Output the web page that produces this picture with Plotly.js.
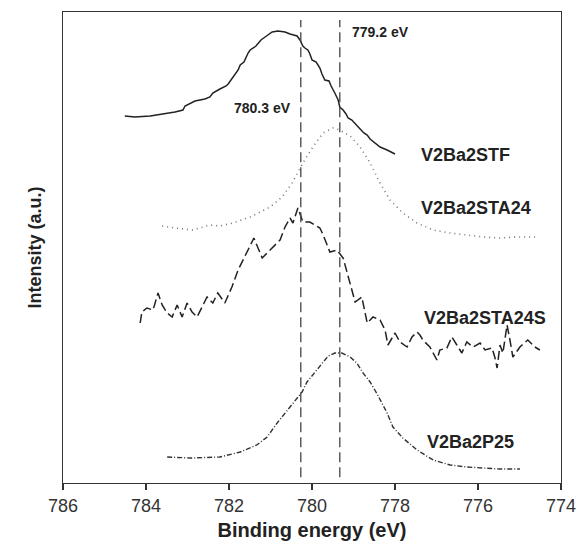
<!DOCTYPE html>
<html>
<head>
<meta charset="utf-8">
<script src="https://cdn.plot.ly/plotly-3.0.1.min.js"></script>
<style>html,body{margin:0;padding:0;background:#fff;}#chart{width:576px;height:547px;}</style>
</head>
<body>
<div id="chart"></div>
<script>
// Binding energy (eV) and intensity (a.u.)
const stfE = [784.51,784.27,783.90,783.54,783.30,783.11,783.06,782.82,782.58,782.46,782.39,782.22,782.07,782.02,781.93,781.78,781.73,781.64,781.54,781.49,781.35,781.23,781.13,781.01,780.96,780.82,780.65,780.53,780.36,780.29,780.22,780.17,780.10,780.05,780.00,779.90,779.81,779.76,779.69,779.59,779.54,779.45,779.37,779.33,779.25,779.18,779.13,779.04,778.96,778.84,778.75,778.67,778.60,778.48,778.36,778.19,778.00];
const stfI = [367,366,367,369,371,373,377,382,384,386,390,394,397,399,404,413,418,421,430,433,437,443,446,449,451,452,451,449,447,443,437,435,433,429,423,421,415,409,403,402,397,390,383,376,373,369,365,363,359,354,350,348,344,340,336,333,329];

const sta24E = [783.61,783.30,782.87,782.46,782.22,781.90,781.49,781.25,781.01,780.72,780.48,780.22,779.98,779.73,779.49,779.33,779.08,778.84,778.60,778.36,778.12,777.81,777.47,777.08,776.67,776.27,775.88,775.47,775.06,774.55];
const sta24I = [257,255,253,258,257,260,266,271,276,286,300,320,336,350,355,353,347,336,320,300,283,270,260,253,250,248,246,245,246,246];

const sta24sE = [784.14,784.10,783.98,783.83,783.71,783.61,783.49,783.37,783.25,783.13,783.01,782.89,782.77,782.53,782.39,782.27,782.10,781.93,781.78,781.57,781.40,781.20,781.01,780.77,780.65,780.53,780.46,780.34,780.22,780.05,779.81,779.73,779.57,779.40,779.25,779.08,778.96,778.80,778.67,778.53,778.36,778.24,778.17,778.00,777.88,777.71,777.59,777.47,777.40,777.33,777.16,776.99,776.92,776.75,776.63,776.51,776.39,776.27,776.12,775.95,775.83,775.66,775.59,775.54,775.47,775.40,775.30,775.23,775.16,774.99,774.80,774.63,774.51];
const sta24sI = [160,171,175,173,190,178,170,166,178,166,180,171,166,186,180,190,180,196,213,230,245,225,233,243,256,265,260,275,261,261,255,248,231,233,225,198,181,186,160,166,163,153,138,150,141,136,146,151,148,143,136,123,133,135,146,138,130,141,136,140,133,135,125,115,138,130,158,143,126,136,143,136,133];

const p25E = [783.49,782.94,782.22,781.73,781.33,781.08,780.84,780.65,780.41,780.24,780.12,779.93,779.76,779.61,779.45,779.28,779.08,778.92,778.77,778.60,778.43,778.19,778.05,777.81,777.47,777.08,776.67,776.27,775.88,775.47,774.99];
const p25I = [26,25,26,31,38,46,60,70,83,91,101,111,120,127,130,130,126,120,110,101,89,70,56,45,33,23,18,16,15,14,14];

const seriesNames = ["V2Ba2STF","V2Ba2STA24","V2Ba2STA24S","V2Ba2P25"];
const refLines = [780.27, 779.33];
const refLabels = ["780.3 eV","779.2 eV"];
const xTicks = [786,784,782,780,778,776,774];

const FONT = "Liberation Sans, Arial, sans-serif";

const traces = [
  {x: stfE, y: stfI, mode:'lines', name: seriesNames[0], line:{color:'#222', width:1.5}},
  {x: sta24E, y: sta24I, mode:'lines', name: seriesNames[1], line:{color:'#777', width:1.6, dash:'1px,4px'}},
  {x: sta24sE, y: sta24sI, mode:'lines', name: seriesNames[2], line:{color:'#222', width:1.5, dash:'9px,4px'}},
  {x: p25E, y: p25I, mode:'lines', name: seriesNames[3], line:{color:'#333', width:1.4, dash:'5px,2px,1px,2px'}}
];

const shapes = refLines.map(v => ({
  type:'line', xref:'x', yref:'paper', x0:v, x1:v, y0:0.012, y1:0.983,
  line:{color:'#444', width:1.3, dash:'10px,5px'}
}));

const annotations = [
  {x:781.20, y:375, text:'<b>'+refLabels[0]+'</b>'},
  {x:778.36, y:451, text:'<b>'+refLabels[1]+'</b>'},
  {x:776.29, y:328, text:'<b>'+seriesNames[0]+'</b>'},
  {x:776.05, y:275, text:'<b>'+seriesNames[1]+'</b>'},
  {x:775.83, y:165, text:'<b>'+seriesNames[2]+'</b>'},
  {x:776.19, y:41, text:'<b>'+seriesNames[3]+'</b>'}
].map((a,i) => Object.assign({xref:'x', yref:'y', showarrow:false, xanchor:'center', yanchor:'middle',
  font:{family:FONT, size: i<2 ? 14 : 18, color:'#222'}}, a));

const layout = {
  width:576, height:547,
  margin:{l:63, r:15, t:12, b:64},
  paper_bgcolor:'#fff', plot_bgcolor:'#fff',
  showlegend:false,
  font:{family:FONT, color:'#333'},
  xaxis:{
    range:[786,774], tickvals:xTicks, ticktext:xTicks.map(String),
    ticks:'outside', ticklen:6, tickwidth:1.2, tickcolor:'#333',
    showline:true, linecolor:'#333', linewidth:1.2, mirror:true,
    showgrid:false, zeroline:false, ticklabeloverflow:'allow',
    tickfont:{family:FONT, size:18, color:'#333'},
    title:{text:'<b>Binding energy (eV)</b>', font:{family:FONT, size:20, color:'#222'}, standoff:8}
  },
  yaxis:{
    range:[0,471], showticklabels:false, ticks:'',
    showline:true, linecolor:'#333', linewidth:1.2, mirror:true,
    showgrid:false, zeroline:false,
    title:{text:'<b>Intensity (a.u.)</b>', font:{family:FONT, size:18, color:'#222'}, standoff:15}
  },
  shapes: shapes,
  annotations: annotations
};

Plotly.newPlot('chart', traces, layout, {displayModeBar:false, staticPlot:true});
</script>
</body>
</html>
